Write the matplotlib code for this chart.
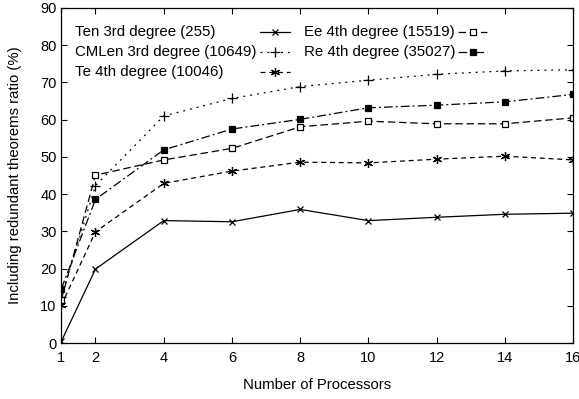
import matplotlib.pyplot as plt
import numpy as np

plt.rcParams['font.family'] = ['Liberation Sans', 'DejaVu Sans']

procs = [1, 2, 4, 6, 8, 10, 12, 14, 16]
ten = [0.5, 19.9, 32.9, 32.6, 35.9, 32.9, 33.8, 34.6, 34.9]
cmlen = [12.5, 42.3, 61.0, 65.7, 68.9, 70.6, 72.2, 73.1, 73.4]
te = [10.2, 29.9, 42.9, 46.2, 48.6, 48.4, 49.4, 50.2, 49.2]
ee = [11.7, 45.1, 49.2, 52.3, 58.1, 59.6, 58.9, 58.9, 60.5]
re = [14.6, 38.6, 51.9, 57.5, 60.1, 63.2, 63.9, 64.8, 66.8]
labels = ['Ten 3rd degree (255)', 'CMLen 3rd degree (10649)',
          'Te 4th degree (10046)', 'Ee 4th degree (15519)',
          'Re 4th degree (35027)']

styles = [
    dict(ls='-', marker='x', ms=5, mfc='black'),
    dict(ls=(0, (1.5, 4)), marker='+', ms=6.5, mfc='black'),
    dict(ls=(0, (4, 3)), marker=(6, 2, 0), ms=6.5, mfc='black'),
    dict(ls=(0, (6, 3)), marker='s', ms=5, mfc='white'),
    dict(ls=(0, (7, 2.5, 1.5, 2.5)), marker='s', ms=5, mfc='black'),
]

fig = plt.figure(figsize=(5.79, 3.99), dpi=100)
ax = fig.add_axes([0.106, 0.14, 0.884, 0.84])

for ys, st in zip([ten, cmlen, te, ee, re], styles):
    ax.plot(procs, ys, color='black', lw=0.9, mew=0.9, **st)

# gnuplot-style key: left-aligned text, sample to the right
key_pos = [(0.027, 0.389, 0.447, 0.928), (0.027, 0.389, 0.447, 0.869),
           (0.027, 0.389, 0.447, 0.809), (0.475, 0.775, 0.832, 0.928),
           (0.475, 0.775, 0.832, 0.869)]
for lab, st, (xt, x0, x1, y) in zip(labels, styles, key_pos):
    ax.text(xt, y, lab, transform=ax.transAxes, fontsize=10.8,
            ha='left', va='center')
    ax.plot([x0, x1], [y, y], transform=ax.transAxes, color='black',
            lw=0.9, ls=st['ls'], clip_on=False)
    ax.plot([(x0 + x1) / 2], [y], transform=ax.transAxes, color='black',
            ls='none', marker=st['marker'], ms=st['ms'], mfc=st['mfc'],
            mew=0.9, clip_on=False)

ax.set_xlim(1, 16)
ax.set_ylim(0, 90)
ax.set_xticks(procs)
ax.set_yticks(np.arange(0, 91, 10))
ax.tick_params(direction='in', top=True, right=True, labelsize=10.5,
               length=4, width=0.8)
ax.tick_params(axis='x', pad=6)
for s in ax.spines.values():
    s.set_linewidth(0.9)

ax.set_xlabel('Number of Processors', fontsize=10.7, labelpad=9)
ax.set_ylabel('Including redundant theorems ratio (%)', fontsize=10.7,
              labelpad=13)

fig.savefig('out.png', dpi=100)
